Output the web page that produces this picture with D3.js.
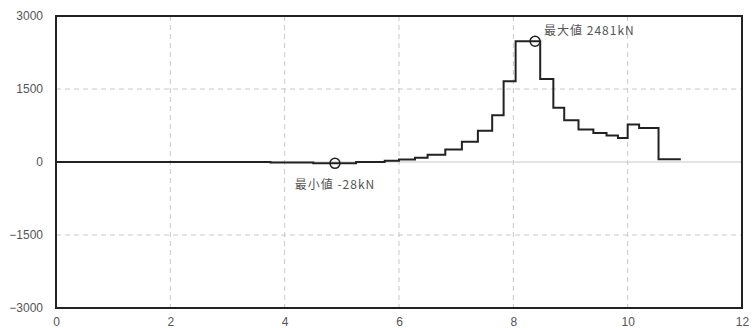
<!DOCTYPE html>
<html><head><meta charset="utf-8">
<script src="https://cdn.jsdelivr.net/npm/d3@7"></script>
<style>
html,body{margin:0;padding:0;background:#fff;}
svg{display:block;}
</style></head>
<body>
<svg id="chart" width="753" height="328"></svg>
<script>
// Step boundaries (x, m) and segment values (kN)
const stepX = [0, 3.75, 4.5, 5.25, 5.75, 6.0, 6.28, 6.5, 6.81, 7.1, 7.38, 7.63, 7.83, 8.04, 8.47, 8.70, 8.89, 9.14, 9.40, 9.63, 9.83, 10.0, 10.2, 10.54, 10.93];
const stepValues = [0, -10, -28, 0, 25, 50, 85, 150, 255, 415, 640, 960, 1660, 2481, 1705, 1115, 860, 670, 595, 545, 495, 770, 700, 55];
const xTicks = [0, 2, 4, 6, 8, 10, 12];
const yTicks = [-3000, -1500, 0, 1500, 3000];
const maxPoint = {x: 8.38, y: 2481, label: "最大値 2481kN"};
const minPoint = {x: 4.88, y: -28, label: "最小値 -28kN"};

const svg = d3.select("#chart");
const L = 56, R = 742, T = 16, B = 308;
const x = d3.scaleLinear().domain([0, 12]).range([L, R]);
const y = d3.scaleLinear().domain([-3000, 3000]).range([B, T]);

// grid
const grid = svg.append("g");
grid.selectAll("line.vx").data(xTicks.filter(d => d > 0 && d < 12)).join("line")
  .attr("x1", d => x(d)).attr("x2", d => x(d)).attr("y1", T).attr("y2", B)
  .attr("stroke", "#c8c8c8").attr("stroke-width", 1).attr("stroke-dasharray", "5,4");
grid.selectAll("line.hy").data(yTicks.filter(d => d !== 0 && Math.abs(d) < 3000)).join("line")
  .attr("x1", L).attr("x2", R).attr("y1", d => y(d)).attr("y2", d => y(d))
  .attr("stroke", "#c8c8c8").attr("stroke-width", 1).attr("stroke-dasharray", "5,4");
grid.append("line").attr("x1", L).attr("x2", R).attr("y1", y(0)).attr("y2", y(0))
  .attr("stroke", "#c8c8c8").attr("stroke-width", 1.2);

// axes (labels only)
const font = "'Liberation Sans', Arial, sans-serif";
const yAxis = svg.append("g").attr("transform", `translate(${L},0)`)
  .call(d3.axisLeft(y).tickValues(yTicks).tickSize(0).tickPadding(13).tickFormat(d3.format("d")));
yAxis.select(".domain").remove();
yAxis.selectAll("text").attr("font-family", font).attr("font-size", 12).attr("fill", "#555");
const xAxis = svg.append("g").attr("transform", `translate(0,${B})`)
  .call(d3.axisBottom(x).tickValues(xTicks).tickSize(0).tickPadding(9).tickFormat(d3.format("d")));
xAxis.select(".domain").remove();
xAxis.selectAll("text").attr("font-family", font).attr("font-size", 12).attr("fill", "#555");

// frame
svg.append("rect").attr("x", L).attr("y", T).attr("width", R - L).attr("height", B - T)
  .attr("fill", "none").attr("stroke", "#222").attr("stroke-width", 2);

// step line
const pts = [];
stepValues.forEach((v, i) => { pts.push([stepX[i], v]); pts.push([stepX[i + 1], v]); });
svg.append("path").datum(pts)
  .attr("d", d3.line().x(d => x(d[0])).y(d => y(d[1])))
  .attr("fill", "none").attr("stroke", "#222").attr("stroke-width", 2).attr("stroke-linejoin", "miter");

// markers
[maxPoint, minPoint].forEach(p => {
  svg.append("circle").attr("cx", x(p.x)).attr("cy", y(p.y)).attr("r", 5)
    .attr("fill", "none").attr("stroke", "#222").attr("stroke-width", 1.5);
});
const lf = "'Noto Sans CJK JP', sans-serif";
svg.append("text").attr("x", x(maxPoint.x) + 9).attr("y", y(maxPoint.y) - 6)
  .attr("font-family", lf).attr("font-size", 12).attr("fill", "#555").attr("letter-spacing", 1)
  .text(maxPoint.label);
svg.append("text").attr("x", x(minPoint.x)).attr("y", y(minPoint.y) + 26)
  .attr("text-anchor", "middle")
  .attr("font-family", lf).attr("font-size", 12).attr("fill", "#555").attr("letter-spacing", 1)
  .text(minPoint.label);
</script>
</body></html>
